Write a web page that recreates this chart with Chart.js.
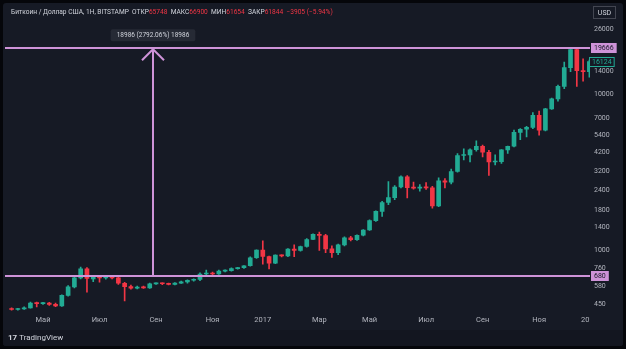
<!DOCTYPE html>
<html>
<head>
<meta charset="utf-8">
<script src="https://cdn.jsdelivr.net/npm/chart.js@4.4.1/dist/chart.umd.min.js"></script>
<style>
  html, body { margin: 0; padding: 0; background: #05060a; }
  #wrap { position: relative; width: 626px; height: 349px; overflow: hidden; background: #05060a; }
  #frame { position: absolute; left: 3px; top: 3px; width: 620px; height: 343px; background: #161a25; border-radius: 3px; }
  #bottom { position: absolute; left: 3px; top: 330px; width: 620px; height: 16px; background: #131620; border-radius: 0 0 3px 3px; }
  canvas { position: absolute; left: 0; top: 0; }
  #hdr { position: absolute; left: 11px; top: 8px; font: 6.6px Roboto, sans-serif; color: #d1d4dc; white-space: nowrap; }
  #hdr .r { color: #f23645; }
  #logo { position: absolute; left: 8px; top: 333px; font: bold 8px Roboto, sans-serif; color: #d1d4dc; white-space: nowrap; }
  #logo span { font-weight: normal; }
</style>
</head>
<body>
<div id="wrap">
  <div id="frame"></div>
  <div id="bottom"></div>
  <canvas id="graph" width="626" height="349"></canvas>
  <div id="hdr">Биткоин / Доллар США, 1Н, BITSTAMP&nbsp; ОТКР<span class="r">65748</span>&nbsp; МАКС<span class="r">66900</span>&nbsp; МИН<span class="r">61654</span>&nbsp; ЗАКР<span class="r">61844</span>&nbsp; <span class="r">−3905 (−5.94%)</span></div>
  <div id="logo">17 <span>TradingView</span></div>
</div>
<script>
// недельные свечи, с 28.03.2016 по 01.01.2018
const opens = [418,414,418,424,456,452,455,447,437,510,578,660,756,650,668,660,675,660,610,580,
  568,575,570,605,609,606,600,612,622,638,646,700,705,700,730,736,757,768,790,890,
  995,906,820,925,915,1012,990,1050,1165,1255,1235,1015,960,1076,1196,1160,1240,1340,1540,1765,
  2011,2165,2530,2942,2505,2490,2510,2500,1910,2774,2720,3180,4030,4060,4390,4620,4230,3660,3680,4380,
  4620,5666,5940,6100,7300,5860,8035,9300,11200,14760,19280,14150,13900];
const highs = [424,422,430,462,462,460,460,456,515,590,670,775,770,685,682,685,682,668,618,595,
  585,585,612,614,614,612,617,630,642,652,712,740,720,742,745,765,772,792,900,1000,
  1140,910,930,930,1020,1076,1055,1180,1265,1300,1255,1060,1090,1210,1220,1250,1350,1560,1780,2050,
  2740,2580,2980,2990,2720,2620,2700,2560,2900,2870,3300,4150,4440,4450,5000,4700,4350,4070,4400,4640,
  5860,6000,6200,7600,7780,8100,9400,11400,16000,19666,19500,16800,16500];
const lows = [410,410,415,422,430,446,440,432,434,505,570,650,534,625,620,648,650,600,470,560,
  562,565,566,600,598,596,596,608,612,630,635,685,690,695,722,730,750,760,785,880,
  810,755,815,900,905,905,980,1040,1160,990,960,894,930,1060,1140,1150,1230,1330,1520,1640,
  1950,2100,2500,2150,2450,2380,2440,1850,1890,2500,2650,3150,3770,3660,4300,3950,3000,3500,3580,4150,
  4580,5100,5300,6000,5450,5800,7950,9000,10800,13900,11180,12100,12800];
const closes = [414,418,424,456,452,455,447,437,510,578,660,756,655,668,660,675,660,610,580,568,
  575,570,605,609,606,600,612,622,638,646,700,705,700,730,736,757,768,790,890,995,
  906,820,925,915,1012,990,1050,1165,1255,1235,1015,960,1076,1196,1160,1240,1340,1540,1765,2011,
  2165,2530,2942,2505,2490,2510,2500,1910,2774,2720,3180,4030,4060,4390,4620,4230,3660,3680,4380,4620,
  5666,5940,6100,7300,5860,8035,9300,11200,14760,19280,14130,13900,16124];

// подписи шкалы времени (номер недели -> подпись)
const monthIdx = [5, 14, 23, 32, 40, 49, 57, 66, 75, 84, 92];
const monthLabels = ["Май", "Июл", "Сен", "Ноя", "2017", "Мар", "Май", "Июл", "Сен", "Ноя", "2018"];
const priceTicks = [450, 580, 760, 1000, 1400, 1800, 2400, 3200, 4200, 5400, 7000, 10000, 14000, 26000];

// горизонтальные уровни и линейка
const levels = [19666, 680];
const rulerAt = 22.5;
const rulerText = "18986 (2792.06%) 18986";
const lastPrice = 16124;

const UP = "#22ab94";
const DOWN = "#f23645";
const LILAC = "#ce93d8";
const BG = "#161a25";

let bodies = [];
let wicks = [];
let colors = [];
for (let i = 0; i < opens.length; i++) {
  bodies.push({ x: i, y: [opens[i], closes[i]] });
  wicks.push({ x: i, y: [lows[i], highs[i]] });
  colors.push(closes[i] >= opens[i] ? UP : DOWN);
}

function box(ctx, text, cx, cy, fill, stroke, color) {
  ctx.font = "7px Roboto, sans-serif";
  const w = ctx.measureText(text).width + 6;
  const h = 10;
  ctx.fillStyle = fill;
  ctx.fillRect(cx, cy - h / 2, w, h);
  if (stroke) {
    ctx.strokeStyle = stroke;
    ctx.lineWidth = 1;
    ctx.strokeRect(cx + 0.5, cy - h / 2 + 0.5, w - 1, h - 1);
  }
  ctx.fillStyle = color;
  ctx.textBaseline = "middle";
  ctx.textAlign = "left";
  ctx.fillText(text, cx + 3, cy + 0.5);
}

const drawings = {
  id: "drawings",
  afterDatasetsDraw(chart) {
    const ctx = chart.ctx;
    const a = chart.chartArea;
    const x = chart.scales.x;
    const y = chart.scales.y;
    ctx.save();
    ctx.strokeStyle = LILAC;
    ctx.lineWidth = 2;
    levels.forEach(v => {
      const py = Math.round(y.getPixelForValue(v));
      ctx.beginPath();
      ctx.moveTo(a.left, py);
      ctx.lineTo(a.right, py);
      ctx.stroke();
    });
    // линейка со стрелкой
    const px = Math.round(x.getPixelForValue(rulerAt));
    const top = y.getPixelForValue(levels[0]);
    const bot = y.getPixelForValue(levels[1]);
    ctx.beginPath();
    ctx.moveTo(px, bot);
    ctx.lineTo(px, top + 1);
    ctx.moveTo(px - 11, top + 12);
    ctx.lineTo(px, top + 1);
    ctx.lineTo(px + 11, top + 12);
    ctx.stroke();
    ctx.font = "6.5px Roboto, sans-serif";
    const tw = ctx.measureText(rulerText).width + 12;
    ctx.fillStyle = "#262a35";
    ctx.beginPath();
    ctx.roundRect(px - tw / 2, top - 19, tw, 12, 2);
    ctx.fill();
    ctx.fillStyle = "#d1d4dc";
    ctx.textAlign = "center";
    ctx.textBaseline = "middle";
    ctx.fillText(rulerText, px, top - 12.5);
    ctx.restore();
  },
  afterDraw(chart) {
    const ctx = chart.ctx;
    const a = chart.chartArea;
    const y = chart.scales.y;
    ctx.save();
    // обрезка последней подписи времени
    ctx.fillStyle = BG;
    ctx.fillRect(a.right, a.bottom + 1, 32, 17);
    levels.forEach(v => box(ctx, String(v), a.right + 1, Math.round(y.getPixelForValue(v)), LILAC, null, "#161a25"));
    box(ctx, String(lastPrice), a.right - 1, Math.round(y.getPixelForValue(lastPrice)), BG, UP, UP);
    // USD
    ctx.strokeStyle = "#434651";
    ctx.lineWidth = 1;
    ctx.strokeRect(593.5, 6.5, 22, 12);
    ctx.fillStyle = "#d1d4dc";
    ctx.font = "7px Roboto, sans-serif";
    ctx.textAlign = "center";
    ctx.textBaseline = "middle";
    ctx.fillText("USD", 604.5, 12.8);
    ctx.restore();
  }
};

const ctx = document.getElementById("graph").getContext("2d");

new Chart(ctx, {
  type: "bar",
  data: {
    datasets: [
      {
        label: "wick",
        data: wicks,
        backgroundColor: colors,
        barThickness: 1,
        grouped: false
      },
      {
        label: "body",
        data: bodies,
        backgroundColor: colors,
        barThickness: 4,
        minBarLength: 1,
        grouped: false
      }
    ]
  },
  options: {
    responsive: false,
    animation: false,
    layout: { padding: { left: 5, top: 4, right: 0, bottom: 19 } },
    plugins: { legend: { display: false }, tooltip: { enabled: false } },
    scales: {
      x: {
        type: "linear",
        offset: false,
        min: -1.05,
        max: 92.1,
        grid: { display: false, drawTicks: false, offset: false },
        border: { display: false },
        afterBuildTicks: s => { s.ticks = monthIdx.map(v => ({ value: v })); },
        afterFit: s => { s.height = 18; },
        ticks: {
          autoSkip: false,
          maxRotation: 0,
          padding: 4,
          color: "#b2b5be",
          font: { family: "Roboto", size: 7.5 },
          callback: (v, i) => monthLabels[i]
        }
      },
      y: {
        type: "logarithmic",
        position: "right",
        min: 399,
        max: 35530,
        grid: { display: false, drawTicks: false },
        border: { display: false },
        afterBuildTicks: s => { s.ticks = priceTicks.map(v => ({ value: v })); },
        afterFit: s => { s.width = 36; },
        ticks: {
          padding: 4,
          color: "#b2b5be",
          font: { family: "Roboto", size: 7 },
          callback: v => String(v)
        }
      }
    }
  },
  plugins: [drawings]
});
</script>
</body>
</html>
